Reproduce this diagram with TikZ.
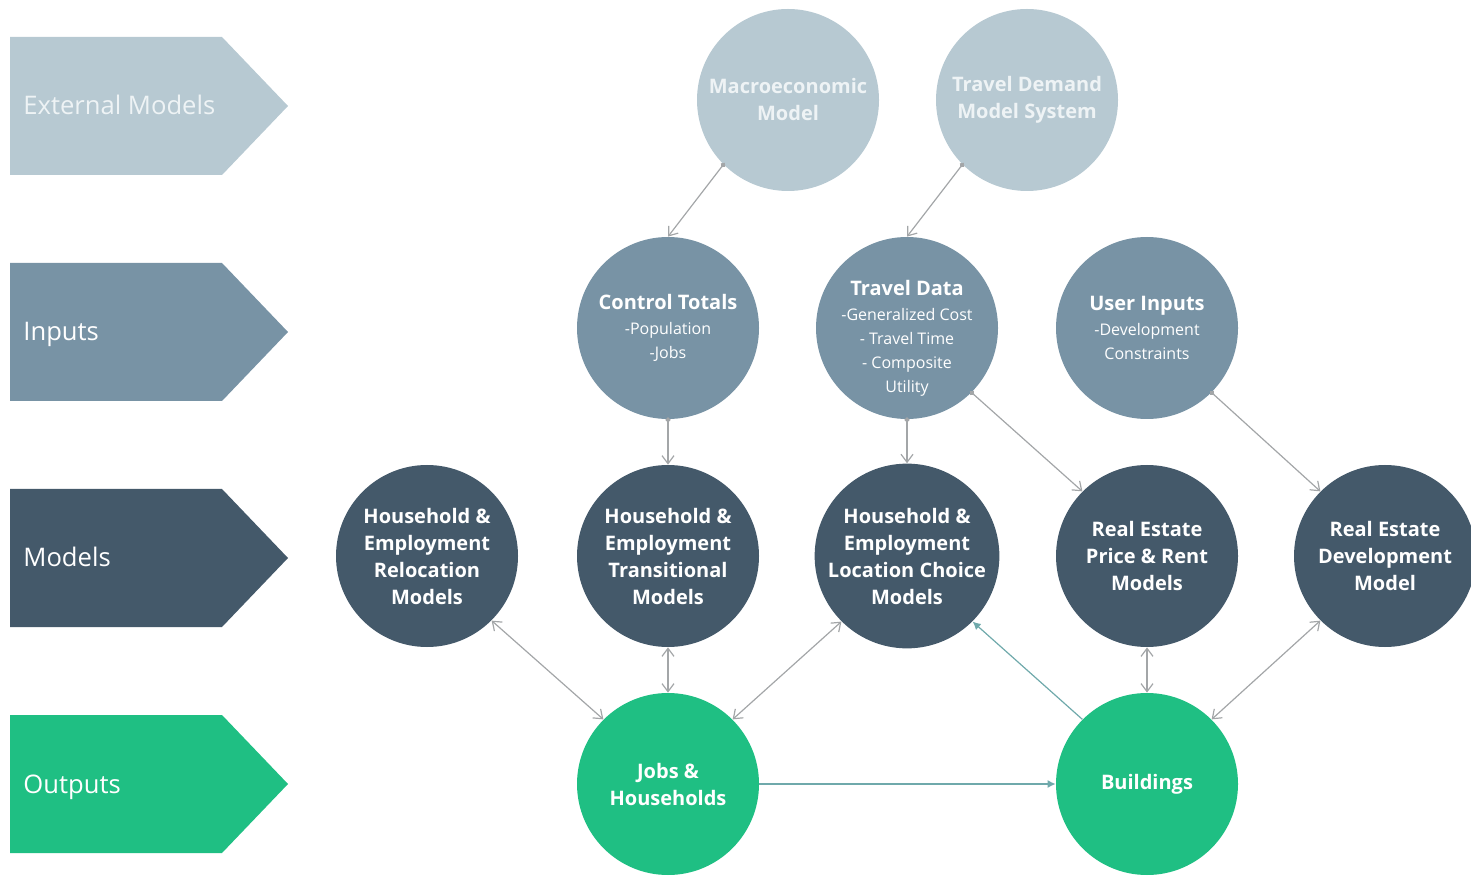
\documentclass[tikz,border=0pt]{standalone}
\usepackage{fontspec}
\setmainfont{Open Sans}
\usetikzlibrary{arrows.meta}
\definecolor{extc}{HTML}{B7C9D2}
\definecolor{inpc}{HTML}{7893A5}
\definecolor{modc}{HTML}{44596A}
\definecolor{outc}{HTML}{1FBF83}
\definecolor{linec}{HTML}{A3A6A8}
\definecolor{tealc}{HTML}{6FA9AB}
\definecolor{exttext}{HTML}{EEF3F5}
\newcommand\smtxt{\fontsize{8}{12}\selectfont\mdseries}
\tikzset{
  circ/.style={circle, minimum size=182pt*0.5, inner sep=0pt, align=center, text=white, font=\bfseries\fontsize{10}{13.5}\selectfont},
  extcirc/.style={circ, fill=extc, text=exttext},
  inpcirc/.style={circ, fill=inpc, text=white},
  modcirc/.style={circ, fill=modc},
  outcirc/.style={circ, fill=outc},
  ctext/.style={inner sep=0pt, align=center, text=white, font=\bfseries\fontsize{10}{13.5}\selectfont},
  chevtext/.style={anchor=base west, inner sep=0pt, font=\fontsize{12.8}{15}\selectfont},
  conn/.style={draw=linec, line width=0.6pt, {Circle[length=2.5pt]}-{Straight Barb[length=4pt,width=6pt]}, shorten <=-1pt},
  bconn/.style={draw=linec, line width=0.6pt, {Straight Barb[length=4pt,width=6pt]}-{Straight Barb[length=4pt,width=6pt]}},
  tconn/.style={draw=tealc, line width=0.6pt, -{Latex[length=4pt,width=4pt]}}
}
\begin{document}
\begin{tikzpicture}[x=0.5pt,y=-0.5pt]
\useasboundingbox (0,0) rectangle (1471,876);
\clip (0,0) rectangle (1471,876);
% chevrons
\fill[extc] (10,37) -- (222,37) -- (288,106) -- (222,175) -- (10,175) -- cycle;
\fill[inpc] (10,263) -- (222,263) -- (288,332) -- (222,401) -- (10,401) -- cycle;
\fill[modc] (10,489) -- (222,489) -- (288,558) -- (222,627) -- (10,627) -- cycle;
\fill[outc] (10,715) -- (222,715) -- (288,784) -- (222,853) -- (10,853) -- cycle;
\node[chevtext, text=exttext] (lext) at (23,115) {External Models};
\node[chevtext, text=white] (linp) at (23,341) {Inputs};
\node[chevtext, text=white] (lmod) at (23,567) {Models};
\node[chevtext, text=white] (lout) at (23,793) {Outputs};
% circles
\node[extcirc] (macro) at (788,100) {Macroeconomic\\Model};
\node[extcirc] (tdm) at (1027,100) {Travel Demand\\Model System};
\node[inpcirc] (ctrl) at (668,328) {Control Totals\\[-1pt]\smtxt -Population\\[-1.5pt]\smtxt -Jobs};
\node[inpcirc] (tdata) at (907,328) {};
\node[ctext] (tdatatxt) at (907,338) {Travel Data\\[-1pt]\smtxt -Generalized Cost\\[-1.5pt]\smtxt - Travel Time\\[-1.5pt]\smtxt - Composite\\[-1.5pt]\smtxt Utility};
\node[inpcirc] (user) at (1147,328) {User Inputs\\[-1pt]\smtxt -Development\\[-1.5pt]\smtxt Constraints};
\node[modcirc] (reloc) at (427,556) {Household \&\\Employment\\Relocation\\Models};
\node[modcirc] (trans) at (668,556) {Household \&\\Employment\\Transitional\\Models};
\node[modcirc] (loc) at (907,556) {Household \&\\Employment\\Location Choice\\Models};
\node[modcirc] (price) at (1147,556) {Real Estate\\Price \& Rent\\Models};
\node[modcirc] (dev) at (1385,556) {Real Estate\\Development\\Model};
\node[outcirc] (jobs) at (668,784) {Jobs \&\\Households};
\node[outcirc] (bldg) at (1147,784) {Buildings};
% connectors
\draw[conn] (macro.225) -- (ctrl.north);
\draw[conn] (tdm.225) -- (tdata.north);
\draw[conn] (ctrl.south) -- (trans.north);
\draw[conn] (tdata.south) -- (loc.north);
\draw[conn] (tdata.315) -- (price.135);
\draw[conn] (user.315) -- (dev.135);
\draw[bconn] (reloc.315) -- (jobs.135);
\draw[bconn] (trans.south) -- (jobs.north);
\draw[bconn] (loc.225) -- (jobs.45);
\draw[bconn] (price.south) -- (bldg.north);
\draw[bconn] (dev.225) -- (bldg.45);
\draw[tconn] (jobs.east) -- (bldg.west);
\draw[tconn] (bldg.135) -- (loc.315);
\end{tikzpicture}
\end{document}
